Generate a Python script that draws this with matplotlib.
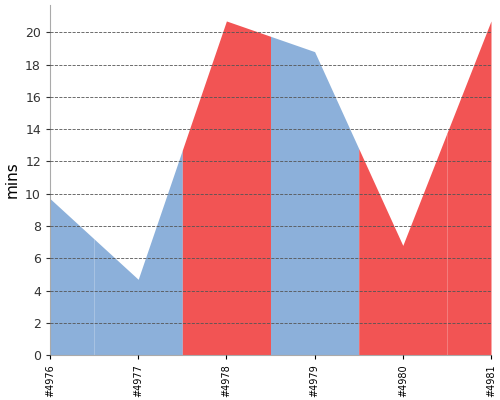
import numpy as np
import matplotlib.pyplot as plt

builds = ["#4976", "#4977", "#4978", "#4979", "#4980", "#4981"]
mins = [9.7, 4.7, 20.7, 18.8, 6.8, 20.7]
status = ["ok", "ok", "fail", "ok", "fail", "fail"]
colors = {"ok": "#8cb0da", "fail": "#f25454"}

x = np.arange(len(builds))
fig = plt.figure(figsize=(5, 4), dpi=100)
ax = fig.add_axes([0.1, 0.112, 0.882, 0.876])

for i, s in enumerate(status):
    lo = max(i - 0.5, 0)
    hi = min(i + 0.5, len(builds) - 1)
    xs = [lo] + [v for v in x if lo < v < hi] + [hi]
    ys = np.interp(xs, x, mins)
    ax.fill_between(xs, 0, ys, color=colors[s], linewidth=0, zorder=1)

ax.set_xlim(0, len(builds) - 1)
ax.set_ylim(0, 21.7)
ax.set_yticks(range(0, 22, 2))
ax.set_xticks(x)
ax.set_xticklabels(builds, rotation=90, fontsize=7)
ax.tick_params(axis="y", labelsize=9, colors="#333333", length=3)
ax.tick_params(axis="x", length=3)
ax.set_ylabel("mins", fontsize=11)
ax.grid(axis="y", linestyle="--", color="#555555", linewidth=0.6, zorder=2)
ax.set_axisbelow(False)
for sp in ["top", "right"]:
    ax.spines[sp].set_visible(False)
for sp in ["left", "bottom"]:
    ax.spines[sp].set_color("#aaaaaa")

fig.savefig("out.png")
